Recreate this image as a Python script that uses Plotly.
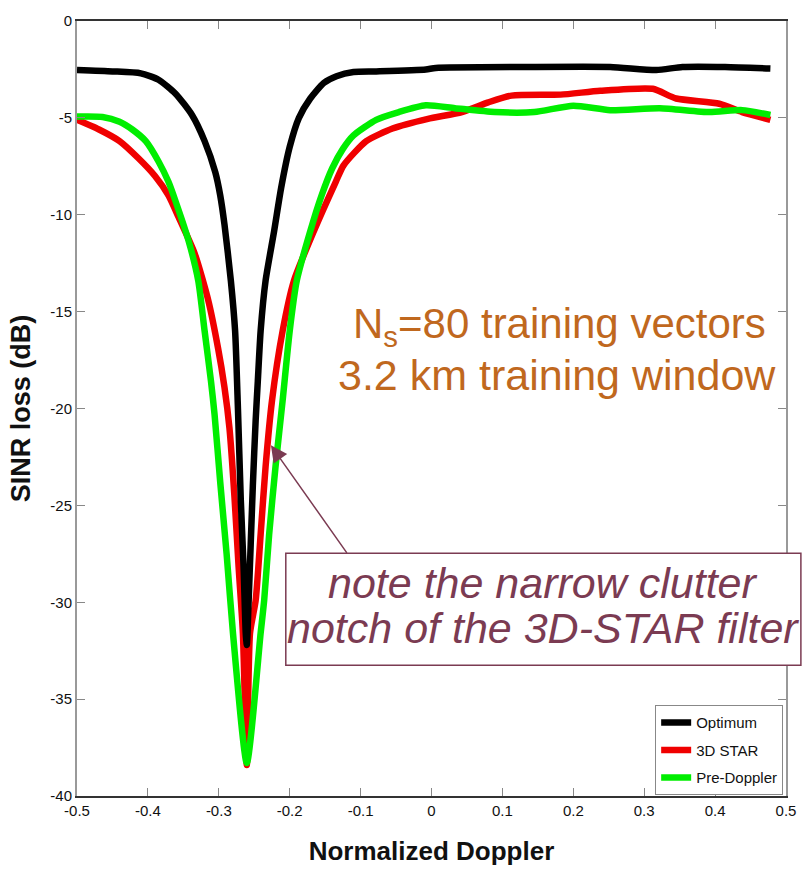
import plotly.graph_objects as go

# ---- data ----
opt_x = [-0.5, -0.45, -0.41, -0.385, -0.361, -0.338, -0.32, -0.305, -0.298, -0.292, -0.283,
         -0.277, -0.273, -0.269, -0.265, -0.262, -0.2605,
         -0.258, -0.255, -0.252, -0.248, -0.245, -0.241, -0.234, -0.222, -0.212, -0.2,
         -0.187, -0.171, -0.152, -0.134, -0.11, -0.078, -0.008, 0.006, 0.136, 0.252,
         0.317, 0.354, 0.414, 0.478]
opt_y = [-2.53, -2.6, -2.7, -3.03, -3.75, -4.84, -6.2, -7.8, -9.0, -10.5, -13.4,
         -16.0, -20.0, -24.7, -28.2, -31.6, -32.2,
         -30.0, -27.0, -24.0, -20.6, -18.6, -16.0, -13.4, -10.85, -8.6, -6.5,
         -5.0, -4.0, -3.2, -2.85, -2.63, -2.6, -2.5, -2.42, -2.37, -2.37,
         -2.53, -2.37, -2.37, -2.45]

star_x = [-0.5, -0.469, -0.44, -0.413, -0.39, -0.371, -0.357, -0.334, -0.315, -0.301, -0.292,
          -0.285, -0.278, -0.272, -0.266, -0.2605,
          -0.256, -0.248, -0.241, -0.234, -0.225, -0.21, -0.194, -0.166, -0.135, -0.124,
          -0.092, -0.055, -0.005, 0.043, 0.08, 0.113, 0.182, 0.238, 0.312, 0.345,
          0.406, 0.438, 0.478]
star_y = [-5.1, -5.6, -6.2, -7.1, -8.0, -9.0, -10.1, -12.0, -14.4, -16.9, -18.9,
          -21.0, -24.5, -28.2, -31.6, -38.4,
          -31.6, -29.9, -26.5, -23.0, -19.6, -16.0, -13.4, -10.85, -8.3, -7.45,
          -6.2, -5.55, -5.05, -4.7, -4.2, -3.85, -3.8, -3.6, -3.5, -4.0,
          -4.27, -4.7, -5.1]

pre_x = [-0.5, -0.464, -0.44, -0.422, -0.403, -0.385, -0.371, -0.361, -0.343, -0.329, -0.32,
         -0.311, -0.306, -0.298, -0.289, -0.28, -0.2605,
         -0.241, -0.236, -0.229, -0.22, -0.21, -0.2, -0.19, -0.171, -0.155, -0.14,
         -0.125, -0.11, -0.078, -0.046, -0.008, 0.033, 0.089, 0.145, 0.2, 0.252, 0.322,
         0.392, 0.438, 0.478]
pre_y = [-4.93, -4.95, -5.2, -5.6, -6.2, -7.25, -8.3, -9.3, -11.3, -13.4, -16.0,
         -18.6, -20.3, -23.8, -27.5, -31.6, -38.3,
         -31.6, -29.9, -26.5, -23.0, -19.6, -16.0, -13.4, -10.85, -9.0, -7.6,
         -6.6, -5.9, -5.1, -4.7, -4.35, -4.5, -4.7, -4.7, -4.37, -4.6, -4.5,
         -4.7, -4.6, -4.85]

names = ["Optimum", "3D STAR", "Pre-Doppler"]
colors = ["#000000", "#f00000", "#00ee00"]

x_ticks = [-0.5, -0.4, -0.3, -0.2, -0.1, 0, 0.1, 0.2, 0.3, 0.4, 0.5]
x_tick_text = ["-0.5", "-0.4", "-0.3", "-0.2", "-0.1", "0", "0.1", "0.2", "0.3", "0.4", "0.5"]
y_ticks = [0, -5, -10, -15, -20, -25, -30, -35, -40]
y_tick_text = ["0", "-5", "-10", "-15", "-20", "-25", "-30", "-35", "-40"]

MAROON = "#7b3b52"
ORANGE = "#c0681e"
FONT = "Liberation Sans, Arial"
TICKFONT = dict(family=FONT, size=15, color="#111")

fig = go.Figure()
# draw order: red, green, black (legend ordered by legendrank)
fig.add_trace(go.Scatter(x=star_x, y=star_y, mode="lines", name=names[1], legendgroup="b",
                         line=dict(color=colors[1], width=6.5, shape="spline", smoothing=0.6),
                         legendrank=2))
fig.add_trace(go.Scatter(x=pre_x, y=pre_y, mode="lines", name=names[2], legendgroup="c",
                         line=dict(color=colors[2], width=6.5, shape="spline", smoothing=0.6),
                         legendrank=3))
fig.add_trace(go.Scatter(x=opt_x, y=opt_y, mode="lines", name=names[0], legendgroup="a",
                         line=dict(color=colors[0], width=6.5, shape="spline", smoothing=0.6),
                         legendrank=1))

fig.update_layout(
    width=808, height=873,
    margin=dict(l=77, r=18, t=20, b=77),
    paper_bgcolor="white", plot_bgcolor="white",
    showlegend=True,
    legend=dict(x=0.996, y=0.117, xanchor="right", yanchor="top",
                bgcolor="white", bordercolor="#888", borderwidth=1,
                font=dict(family=FONT, size=15, color="#111"),
                tracegroupgap=5, itemwidth=30),
    xaxis=dict(range=[-0.5, 0.5], tickmode="array", tickvals=x_ticks, ticktext=x_tick_text,
               showgrid=False, zeroline=False, showline=True, linecolor="#333", linewidth=2,
               mirror="ticks", ticks="inside", ticklen=8, tickcolor="#888", tickwidth=1,
               tickfont=TICKFONT,
               title=dict(text="<b>Normalized Doppler</b>", standoff=24,
                          font=dict(family=FONT, size=26, color="#111"))),
    yaxis=dict(range=[-40, 0], tickmode="array", tickvals=y_ticks, ticktext=y_tick_text,
               showgrid=False, zeroline=False, showline=True, linecolor="#999", linewidth=2,
               mirror="ticks", ticks="inside", ticklen=8, tickcolor="#888", tickwidth=1,
               tickfont=TICKFONT,
               title=dict(text="<b>SINR loss (dB)</b>", standoff=12,
                          font=dict(family=FONT, size=27, color="#111"))),
)

# annotation box (note)
fig.add_shape(type="rect", xref="paper", yref="paper",
              x0=0.2945, x1=1.021, y0=0.1688, y1=0.3131,
              line=dict(color=MAROON, width=1.5), fillcolor="white", layer="above")

fig.add_annotation(xref="paper", yref="paper", x=0.6577, y=0.2742, xanchor="center", yanchor="middle",
                   text="<i>note the narrow clutter</i>", showarrow=False,
                   font=dict(family=FONT, size=43, color=MAROON))
fig.add_annotation(xref="paper", yref="paper", x=0.6577, y=0.2165, xanchor="center", yanchor="middle",
                   text="<i>notch of the 3D-STAR filter</i>", showarrow=False,
                   font=dict(family=FONT, size=43, color=MAROON))

# arrow pointing to the 3D STAR notch
fig.add_annotation(x=-0.2265, y=-21.9, xref="x", yref="y", text="", showarrow=True,
                   ax=77, ay=109, axref="pixel", ayref="pixel",
                   arrowhead=2, arrowsize=2.2, arrowwidth=1.5, arrowcolor=MAROON)

# orange text
fig.add_annotation(xref="paper", yref="paper", x=0.68, y=0.606, xanchor="center", yanchor="middle",
                   text="N<sub>s</sub>=80 training vectors", showarrow=False,
                   font=dict(family=FONT, size=42, color=ORANGE))
fig.add_annotation(xref="paper", yref="paper", x=0.677, y=0.543, xanchor="center", yanchor="middle",
                   text="3.2 km training window", showarrow=False,
                   font=dict(family=FONT, size=43, color=ORANGE))

fig.write_html("out.html")
